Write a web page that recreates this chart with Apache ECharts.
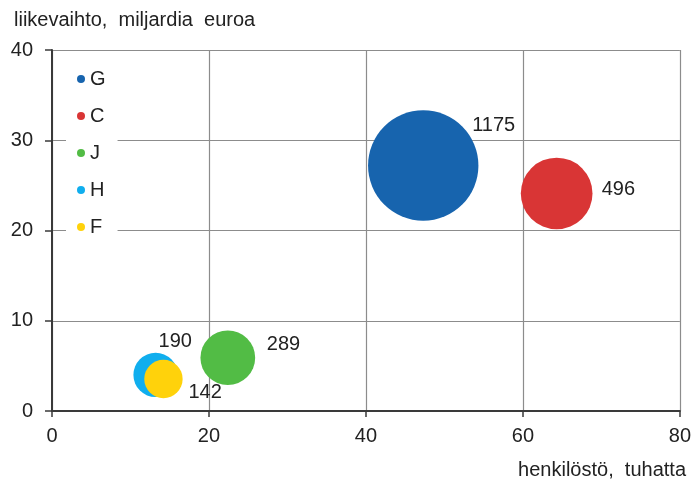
<!DOCTYPE html>
<html>
<head>
<meta charset="utf-8">
<script src="https://cdn.jsdelivr.net/npm/echarts@6/dist/echarts.min.js"></script>
<style>html,body{margin:0;padding:0;background:#fff}#c{width:694px;height:481px}</style>
</head>
<body>
<div id="c"></div>
<script>
const sectors = ['G', 'C', 'J', 'H', 'F'];
const staff = [47.3, 64.3, 22.4, 13.2, 14.2];        // henkilöstö, tuhatta
const turnover = [27.2, 24.1, 5.9, 4.0, 3.55];       // liikevaihto, miljardia euroa
const bubbleValues = [1175, 496, 289, 190, 142];
const colors = ['#1764ae', '#d93535', '#52bc45', '#10aeee', '#ffd20b'];
const labelOffsets = [[49, -40], [45, -4], [39, -13], [3, -33], [25, 14]];
const xTicks = [0, 20, 40, 60, 80];
const yTicks = [0, 10, 20, 30, 40];

const FONT = 'Liberation Sans, Arial, sans-serif';
const FS = 20;
const chart = echarts.init(document.getElementById('c'));

const series = sectors.map((s, i) => ({
  name: s,
  type: 'scatter',
  data: [[staff[i], turnover[i], bubbleValues[i]]],
  symbol: 'circle',
  symbolSize: v => 3.22 * Math.sqrt(v[2]),
  itemStyle: { color: colors[i], opacity: 1 },
  label: {
    show: true,
    position: 'inside',
    align: 'left',
    verticalAlign: 'middle',
    offset: labelOffsets[i],
    formatter: p => String(p.value[2]),
    color: '#222',
    fontSize: FS,
    fontFamily: FONT
  },
  emphasis: { disabled: true }
}));

chart.setOption({
  animation: false,
  color: colors,
  grid: { left: 52, right: 14, top: 50, bottom: 70 },
  xAxis: {
    type: 'value', min: xTicks[0], max: xTicks[xTicks.length - 1], interval: 20,
    axisLine: { show: true, onZero: false, lineStyle: { color: '#3a3a3a', width: 2 } },
    axisTick: { show: true, length: 6, lineStyle: { color: '#3a3a3a', width: 1.5 } },
    axisLabel: { margin: 15, color: '#222', fontSize: FS, fontFamily: FONT },
    splitLine: { show: true, lineStyle: { color: '#8c8c8c', width: 1.2 } }
  },
  yAxis: {
    type: 'value', min: yTicks[0], max: yTicks[yTicks.length - 1], interval: 10,
    axisLine: { show: true, onZero: false, lineStyle: { color: '#3a3a3a', width: 2 } },
    axisTick: { show: true, length: 7, lineStyle: { color: '#3a3a3a', width: 1.5 } },
    axisLabel: { margin: 19, color: '#222', fontSize: FS, fontFamily: FONT },
    splitLine: { show: true, lineStyle: { color: '#8c8c8c', width: 1.2 } }
  },
  legend: {
    data: sectors,
    orient: 'vertical',
    left: 66, top: 63,
    padding: [6, 12, 6, 11],
    backgroundColor: '#fff',
    icon: 'circle',
    itemWidth: 8, itemHeight: 8,
    itemGap: 17,
    textStyle: { color: '#222', fontSize: FS, lineHeight: 20, fontFamily: FONT }
  },
  graphic: [
    { type: 'text', left: 14, top: 10,
      style: { text: 'liikevaihto,  miljardia  euroa', fill: '#222', font: FS + 'px ' + FONT } },
    { type: 'text', right: 8, top: 460,
      style: { text: 'henkilöstö,  tuhatta', fill: '#222', font: FS + 'px ' + FONT } }
  ],
  series: series
});
</script>
</body>
</html>
